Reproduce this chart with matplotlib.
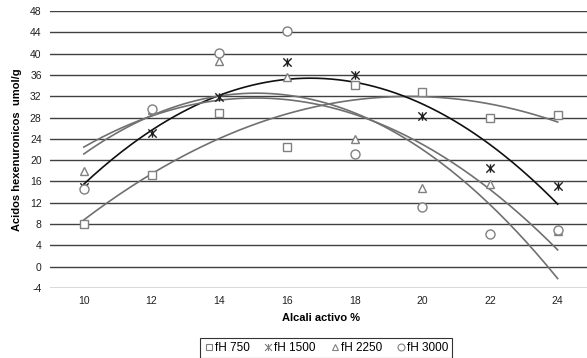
import numpy as np
import matplotlib.pyplot as plt
from matplotlib.path import Path
from matplotlib.lines import Line2D

plt.rcParams['font.family'] = ['Liberation Sans', 'DejaVu Sans']
plt.rcParams['axes.unicode_minus'] = False

alcali = [10, 12, 14, 16, 18, 20, 22, 24]
fh750 = [8.0, 17.2, 28.8, 22.5, 34.2, 32.8, 28.0, 28.4]
fh1500 = [15.0, 25.1, 31.8, 38.5, 35.9, 28.3, 18.6, 15.1]
fh2250 = [17.9, 29.5, 38.7, 35.6, 23.9, 14.7, 15.6, 6.7]
fh3000 = [14.6, 29.6, 40.1, 44.3, 21.2, 11.2, 6.2, 6.9]
labels = ['fH 750', 'fH 1500', 'fH 2250', 'fH 3000']
yticks = list(range(-4, 49, 4))

# asterisk: x plus a vertical bar
star = Path([(-1, -1), (1, 1), (-1, 1), (1, -1), (0, -1), (0, 1)],
            [Path.MOVETO, Path.LINETO, Path.MOVETO, Path.LINETO, Path.MOVETO, Path.LINETO])

series = [
    (fh750, 's', '#808080', '#707070', 6),
    (fh1500, star, '#202020', '#101010', 6),
    (fh2250, '^', '#808080', '#707070', 6),
    (fh3000, 'o', '#808080', '#707070', 6.5),
]

fig = plt.figure(figsize=(5.87, 3.58), dpi=100)
ax = fig.add_axes([50 / 587, 1 - 288 / 358, 541.5 / 587, 277 / 358])

for yv in yticks:
    ax.axhline(yv, color='#404040', lw=1, zorder=0)

x = np.array(alcali, dtype=float)
xs = np.linspace(10, 24, 200)
handles = []
for (vals, mk, mcol, lcol, ms), lab in zip(series, labels):
    ax.plot(x, vals, linestyle='none', marker=mk, markersize=ms,
            markerfacecolor='white' if mk is not star else 'none',
            markeredgecolor=mcol, markeredgewidth=1, zorder=3)
    # second order trend line
    c = np.polyfit(x, vals, 2)
    ax.plot(xs, np.polyval(c, xs), color=lcol, lw=1.2, zorder=2)
    handles.append(Line2D([], [], linestyle='none', marker=mk, markersize=5,
                          markerfacecolor='white' if mk is not star else 'none',
                          markeredgecolor='#808080', markeredgewidth=0.8, label=lab))

ax.set_xlim(9, 25)
ax.set_ylim(-4, 48)
ax.set_xticks(alcali)
ax.set_yticks(yticks)
ax.tick_params(length=0, labelsize=7.5, colors='#202020', pad=6)
for s in ax.spines.values():
    s.set_visible(False)

ax.set_xlabel('Alcali activo %', fontsize=8, fontweight='bold', labelpad=5)
ax.set_ylabel('Acidos hexenuronicos  umol/g', fontsize=8, fontweight='bold', labelpad=6)

leg = fig.legend(handles=handles, loc='center', bbox_to_anchor=(326 / 587, 1 - 348 / 358),
                 ncol=4, fontsize=8.5, frameon=True, fancybox=False, edgecolor='black',
                 handlelength=0.8, handletextpad=0.1, columnspacing=1.2,
                 borderpad=0.3)
leg.get_frame().set_linewidth(0.8)

fig.savefig('out.png', dpi=100)
